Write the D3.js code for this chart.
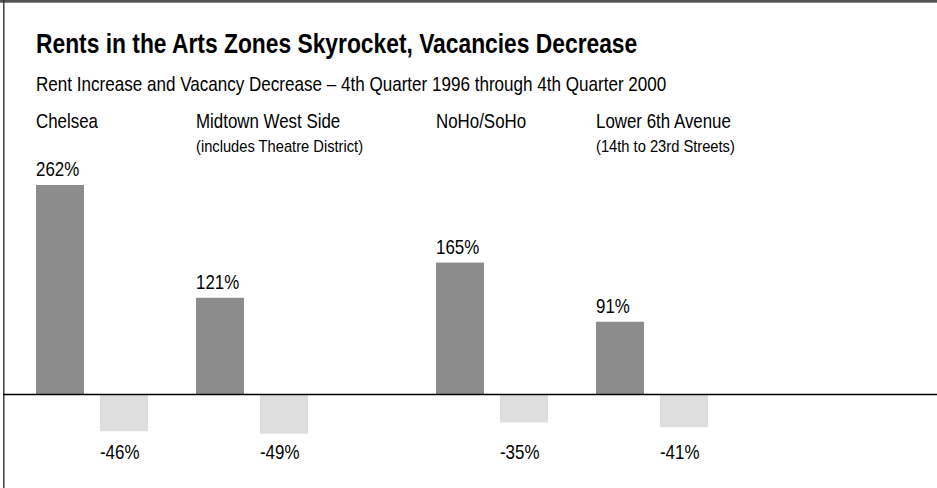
<!DOCTYPE html>
<html>
<head>
<meta charset="utf-8">
<script src="https://cdn.jsdelivr.net/npm/d3@7"></script>
<style>
  html, body { margin: 0; padding: 0; background: #fff; }
  svg { display: block; }
  text { font-family: "Liberation Sans", Arial, Helvetica, sans-serif; fill: #000; }
</style>
</head>
<body>
<div id="chart"></div>
<script>
// ---- Data ----
const districts = ["Chelsea", "Midtown West Side", "NoHo/SoHo", "Lower 6th Avenue"];
const districtNotes = ["", "(includes Theatre District)", "", "(14th to 23rd Streets)"];
const rentIncrease = [262, 121, 165, 91];
const vacancyDecrease = [-46, -49, -35, -41];
const seriesKeys = ["rent", "vacancy"];
const titleText = "Rents in the Arts Zones Skyrocket, Vacancies Decrease";
const subtitleText = "Rent Increase and Vacancy Decrease \u2013 4th Quarter 1996 through 4th Quarter 2000";

// ---- Layout ----
const W = 937, H = 488;
const squeeze = 0.845;           // horizontal text compression seen in the reference
const baseY = 394.5;

const svg = d3.select("#chart").append("svg")
  .attr("width", W).attr("height", H);

svg.append("rect").attr("width", W).attr("height", H).attr("fill", "#fff");

// frame: top band and left rule
svg.append("rect").attr("x", 0).attr("y", 0).attr("width", W).attr("height", 2.7).attr("fill", "#555");
svg.append("line").attr("x1", 3.8).attr("x2", 3.8).attr("y1", 0).attr("y2", H)
  .attr("stroke", "#333").attr("stroke-width", 1.4);

function addText(x, y, str, size, weight) {
  return svg.append("text")
    .attr("transform", `translate(${x},${y}) scale(${squeeze},1)`)
    .attr("font-size", size)
    .attr("font-weight", weight || "normal")
    .text(str);
}

addText(36, 52.5, titleText, 27, "bold");
addText(36, 90.5, subtitleText, 20.2);

// Scales
// group slot: districts are spaced in half-steps, with an extra half-step gap in the middle
const slotOf = i => 2 * i + (i >= 2 ? 1 : 0);
const x0 = d3.scaleLinear().domain([0, 7]).range([36, 596]);
const x1 = d3.scaleBand().domain(seriesKeys).range([0, 112]).paddingInner(0.25).paddingOuter(0);
const y = d3.scaleLinear().domain([0, d3.max(rentIncrease)]).range([baseY, 185]);

const rows = districts.map((d, i) => ({
  name: d, note: districtNotes[i], rent: rentIncrease[i], vacancy: vacancyDecrease[i], gx: x0(slotOf(i))
}));

// category labels
rows.forEach(r => {
  addText(r.gx, 127.7, r.name, 20);
  if (r.note) addText(r.gx, 151.5, r.note, 17.4);
});

// rent bars
svg.selectAll("rect.rent").data(rows).enter().append("rect")
  .attr("class", "rent")
  .attr("x", d => d.gx + x1("rent"))
  .attr("width", x1.bandwidth())
  .attr("y", d => y(d.rent))
  .attr("height", d => y(0) - y(d.rent))
  .attr("fill", "#8c8c8c");

// vacancy bars
svg.selectAll("rect.vac").data(rows).enter().append("rect")
  .attr("class", "vac")
  .attr("x", d => d.gx + x1("vacancy"))
  .attr("width", x1.bandwidth())
  .attr("y", y(0))
  .attr("height", d => y(d.vacancy) - y(0))
  .attr("fill", "#dedede");

// value labels
rows.forEach(r => {
  addText(r.gx + x1("rent"), y(r.rent) - 8.8, r.rent + "%", 20);
  addText(r.gx + x1("vacancy"), 459, r.vacancy + "%", 20);
});

// zero baseline
svg.append("line").attr("x1", 3).attr("x2", W).attr("y1", y(0)).attr("y2", y(0))
  .attr("stroke", "#000").attr("stroke-width", 1.6);
</script>
</body>
</html>
